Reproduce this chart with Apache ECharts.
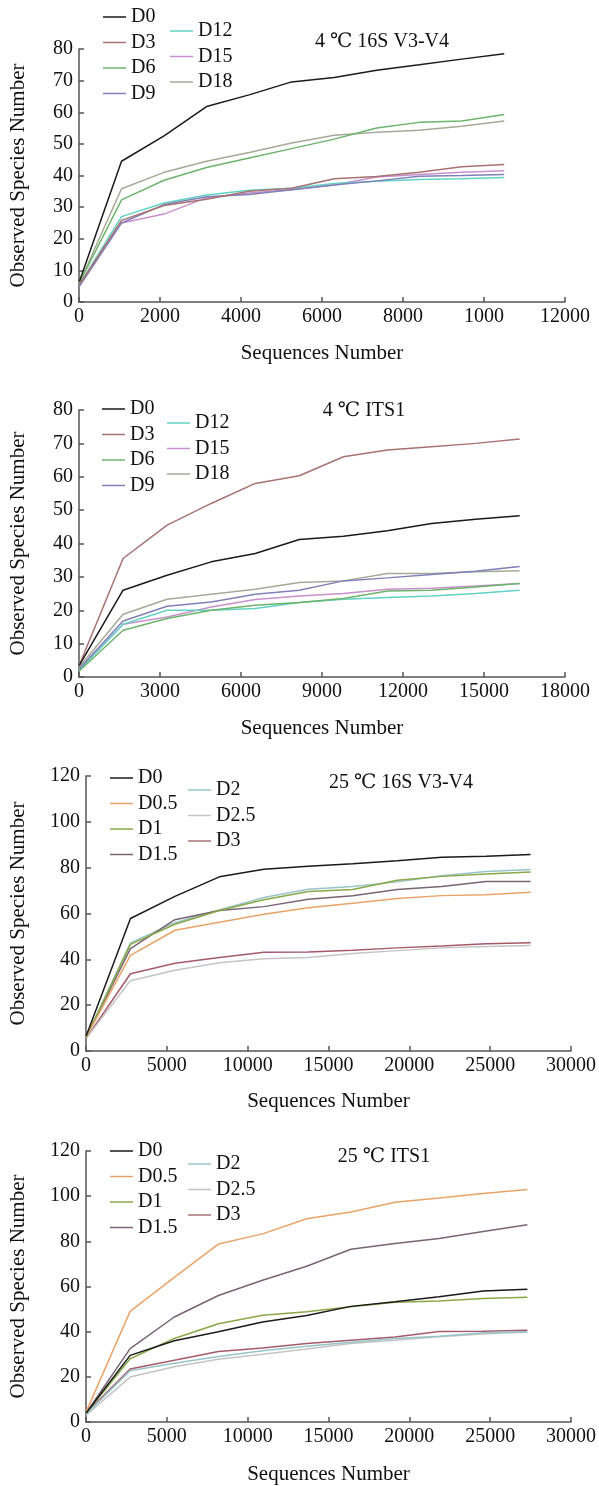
<!DOCTYPE html>
<html>
<head>
<meta charset="utf-8">
<script src="https://cdn.jsdelivr.net/npm/echarts@6/dist/echarts.min.js"></script>
<style>
html,body{margin:0;padding:0;background:#fff;}
#c{width:599px;height:1486px;}
</style>
</head>
<body>
<div id="c"></div>
<script>
// ---------- Data ----------
// Panel 1: 4 ℃ 16S V3-V4
const p1Title = '4 ℃ 16S V3-V4';
const p1X = [10, 1050, 2100, 3150, 4200, 5250, 6300, 7350, 8400, 9450, 10500];
const p1XLabels = ['0', '2000', '4000', '6000', '8000', '1000', '12000'];
const p1Names = ['D0', 'D3', 'D6', 'D9', 'D12', 'D15', 'D18'];
const p1D0  = [6.5, 44.5, 52.5, 61.8, 65.5, 69.6, 71.0, 73.3, 75.0, 76.8, 78.5];
const p1D3  = [5.5, 25.8, 30.5, 32.5, 35.0, 36.0, 39.0, 39.7, 41.0, 42.8, 43.5];
const p1D6  = [6.0, 32.3, 38.5, 42.5, 45.5, 48.5, 51.5, 55.0, 56.8, 57.2, 59.3];
const p1D9  = [5.0, 25.0, 30.8, 33.3, 34.0, 35.5, 37.0, 38.3, 39.8, 40.0, 40.3];
const p1D12 = [5.5, 27.0, 31.3, 33.8, 35.3, 36.0, 37.5, 38.2, 38.7, 39.0, 39.4];
const p1D15 = [5.0, 25.0, 27.8, 33.0, 34.5, 35.5, 37.0, 39.5, 40.3, 41.0, 41.5];
const p1D18 = [6.0, 35.8, 41.0, 44.5, 47.3, 50.3, 52.7, 53.7, 54.3, 55.6, 57.2];

// Panel 2: 4 ℃ ITS1
const p2Title = '4 ℃ ITS1';
const p2X = [10, 1632, 3264, 4896, 6528, 8160, 9792, 11424, 13056, 14688, 16320];
const p2XLabels = ['0', '3000', '6000', '9000', '12000', '15000', '18000'];
const p2Names = ['D0', 'D3', 'D6', 'D9', 'D12', 'D15', 'D18'];
const p2D0  = [3.5, 26.0, 30.5, 34.5, 37.0, 41.2, 42.2, 43.8, 46.0, 47.3, 48.3];
const p2D3  = [3.5, 35.5, 45.5, 52.0, 58.0, 60.3, 66.0, 68.0, 69.0, 70.0, 71.3];
const p2D6  = [1.8, 14.0, 17.5, 20.0, 21.5, 22.3, 23.5, 25.8, 26.0, 27.0, 28.0];
const p2D9  = [2.5, 16.8, 21.2, 22.5, 24.8, 26.0, 28.8, 29.7, 30.7, 31.7, 33.1];
const p2D12 = [2.0, 15.8, 20.0, 20.0, 20.5, 22.3, 23.3, 23.8, 24.3, 25.0, 26.0];
const p2D15 = [2.2, 15.8, 18.0, 21.0, 23.2, 24.3, 25.0, 26.3, 26.6, 27.3, 28.0];
const p2D18 = [3.0, 18.8, 23.3, 24.8, 26.3, 28.3, 28.8, 31.0, 31.0, 31.5, 31.8];

// Panel 3: 25 ℃ 16S V3-V4
const p3Title = '25 ℃ 16S V3-V4';
const p3X = [10, 2750, 5500, 8250, 11000, 13750, 16500, 19250, 22000, 24750, 27500];
const p3XLabels = ['0', '5000', '10000', '15000', '20000', '25000', '30000'];
const p3Names = ['D0', 'D0.5', 'D1', 'D1.5', 'D2', 'D2.5', 'D3'];
const p3D0   = [6.5, 57.8, 67.5, 76.0, 79.3, 80.6, 81.7, 83.0, 84.5, 85.0, 85.7];
const p3D05  = [6.0, 41.7, 52.7, 56.2, 59.7, 62.5, 64.5, 66.5, 67.8, 68.2, 69.3];
const p3D1   = [6.0, 46.5, 55.3, 61.3, 66.0, 69.6, 70.5, 74.5, 76.2, 77.2, 78.1];
const p3D15  = [6.0, 44.7, 57.3, 61.3, 63.0, 66.2, 67.7, 70.5, 71.8, 74.0, 74.0];
const p3D2   = [6.0, 47.2, 56.0, 61.5, 67.0, 70.6, 71.8, 73.8, 76.5, 78.3, 79.2];
const p3D25  = [5.5, 30.7, 35.2, 38.5, 40.3, 40.8, 42.5, 43.8, 45.0, 45.6, 46.0];
const p3D3   = [5.5, 33.7, 38.3, 40.8, 43.1, 43.2, 44.0, 45.0, 45.8, 46.8, 47.2];

// Panel 4: 25 ℃ ITS1
const p4Title = '25 ℃ ITS1';
const p4X = [10, 2730, 5460, 8190, 10920, 13650, 16380, 19110, 21840, 24570, 27300];
const p4XLabels = ['0', '5000', '10000', '15000', '20000', '25000', '30000'];
const p4Names = ['D0', 'D0.5', 'D1', 'D1.5', 'D2', 'D2.5', 'D3'];
const p4D0   = [4.0, 29.5, 36.0, 40.0, 44.3, 47.2, 51.2, 53.3, 55.5, 58.0, 58.8];
const p4D05  = [4.5, 49.0, 64.0, 78.8, 83.3, 90.0, 93.0, 97.3, 99.2, 101.2, 103.0];
const p4D1   = [4.0, 28.0, 37.0, 43.5, 47.3, 48.8, 51.0, 53.0, 53.6, 54.7, 55.2];
const p4D15  = [4.0, 32.5, 46.5, 56.0, 62.8, 69.0, 76.5, 79.0, 81.3, 84.4, 87.3];
const p4D2   = [3.5, 22.7, 26.0, 29.0, 31.5, 33.5, 35.3, 37.0, 38.0, 39.5, 40.0];
const p4D25  = [3.0, 19.9, 24.5, 27.8, 30.0, 32.3, 34.8, 36.2, 37.7, 39.0, 39.8];
const p4D3   = [4.0, 23.5, 27.3, 31.2, 32.8, 34.8, 36.2, 37.6, 40.1, 40.2, 40.6];

const yName = 'Observed Species Number';
const xName = 'Sequences Number';

// ---------- Styles ----------
const FONT = '"Liberation Serif", "DejaVu Serif", "Times New Roman", "Noto Sans CJK SC", serif';
const colA = {D0:'#1a1a1a', D3:'#a87272', D6:'#6cb46c', D9:'#8080b8', D12:'#62d2c4', D15:'#c890cc', D18:'#a8a898'};
const colB = {D0:'#1a1a1a', 'D0.5':'#e8a468', D1:'#88a848', 'D1.5':'#7a6474', D2:'#98c4cc', 'D2.5':'#c4c4c4', D3:'#a45a6a'};

const panels = [
  {title:p1Title, x:p1X, labels:p1XLabels, names:p1Names, vals:[p1D0,p1D3,p1D6,p1D9,p1D12,p1D15,p1D18], col:colA,
   grid:{left:78, top:49, width:487, height:253}, xmax:12000, xint:2000, ymax:80, yint:10,
   titlePos:[382, 42], leg1:[103, 7], leg2:[170, 21], yGap:50, xGap:41},
  {title:p2Title, x:p2X, labels:p2XLabels, names:p2Names, vals:[p2D0,p2D3,p2D6,p2D9,p2D12,p2D15,p2D18], col:colA,
   grid:{left:78, top:410, width:487, height:267}, xmax:18000, xint:3000, ymax:80, yint:10,
   titlePos:[364, 411], leg1:[102, 399], leg2:[167, 413], yGap:50, xGap:41},
  {title:p3Title, x:p3X, labels:p3XLabels, names:p3Names, vals:[p3D0,p3D05,p3D1,p3D15,p3D2,p3D25,p3D3], col:colB,
   grid:{left:85, top:776, width:488, height:275}, xmax:30000, xint:5000, ymax:120, yint:20,
   titlePos:[401, 783], leg1:[110, 768], leg2:[188, 780], yGap:57, xGap:40},
  {title:p4Title, x:p4X, labels:p4XLabels, names:p4Names, vals:[p4D0,p4D05,p4D1,p4D15,p4D2,p4D25,p4D3], col:colB,
   grid:{left:85, top:1151, width:488, height:273}, xmax:30000, xint:5000, ymax:120, yint:20,
   titlePos:[384, 1157], leg1:[110, 1141], leg2:[188, 1154], yGap:57, xGap:42}
];

const option = {
  backgroundColor:'#fff',
  animation:false,
  grid:[], xAxis:[], yAxis:[], series:[], legend:[], graphic:[]
};

const axisLine = {show:true, lineStyle:{color:'#555', width:1.5}};
const axisTick = {show:true, inside:true, length:5, lineStyle:{color:'#555', width:1.5}};
const labelStyle = {fontFamily:FONT, fontSize:20, color:'#111'};

panels.forEach((p, i) => {
  option.grid.push(Object.assign({containLabel:false}, p.grid));
  option.xAxis.push({
    type:'value', gridIndex:i, min:0, max:p.xmax, interval:p.xint,
    axisLine, axisTick, splitLine:{show:false},
    axisLabel:Object.assign({margin:5, formatter:(v) => p.labels[Math.round(v / p.xint)]}, labelStyle),
    name:xName, nameLocation:'middle', nameGap:p.xGap,
    nameTextStyle:{fontFamily:FONT, fontSize:21, color:'#111'}
  });
  option.yAxis.push({
    type:'value', gridIndex:i, min:0, max:p.ymax, interval:p.yint,
    axisLine, axisTick, splitLine:{show:false},
    axisLabel:Object.assign({margin:6}, labelStyle),
    name:yName, nameLocation:'middle', nameGap:p.yGap,
    nameTextStyle:{fontFamily:FONT, fontSize:21, color:'#111'}
  });
  p.names.forEach((n, k) => {
    option.series.push({
      type:'line', name:n, xAxisIndex:i, yAxisIndex:i,
      data:p.x.map((x, j) => [x, p.vals[k][j]]),
      symbol:'none', smooth:false, color:p.col[n],
      lineStyle:{width:1.5, color:p.col[n]}, z: 10 - k
    });
  });
  const legBase = {
    orient:'vertical', icon:'rect', itemWidth:23, itemHeight:1.5, itemGap:5.5, padding:0,
    textStyle:{fontFamily:FONT, fontSize:20, color:'#111', lineHeight:20},
    selectedMode:false
  };
  option.legend.push(Object.assign({}, legBase, {left:p.leg1[0], top:p.leg1[1], data:p.names.slice(0,4)}));
  option.legend.push(Object.assign({}, legBase, {left:p.leg2[0], top:p.leg2[1], data:p.names.slice(4)}));
  option.graphic.push({
    type:'text', x:p.titlePos[0], y:p.titlePos[1],
    style:{text:p.title, font:'20px ' + FONT, fill:'#111', align:'center', verticalAlign:'middle'}
  });
});

const chart = echarts.init(document.getElementById('c'), null, {renderer:'canvas', width:599, height:1486});
chart.setOption(option);
</script>
</body>
</html>
